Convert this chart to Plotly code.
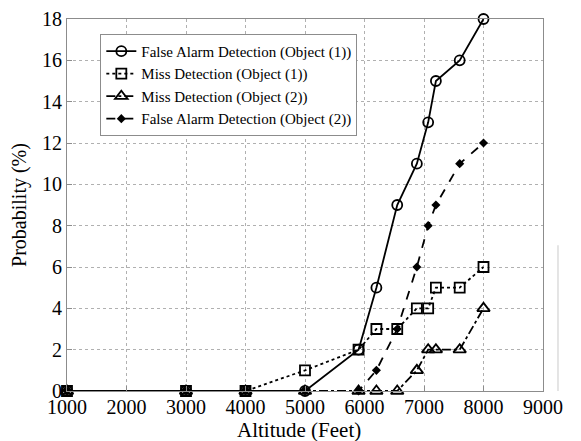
import plotly.graph_objects as go

altitude = [1000, 3000, 4000, 5000, 5900, 6200, 6550, 6880, 7070, 7200, 7600, 8000]
fa_obj1 = [0, 0, 0, 0, 2, 5, 9, 11, 13, 15, 16, 18]
miss_obj1 = [0, 0, 0, 1, 2, 3, 3, 4, 4, 5, 5, 6]
miss_obj2 = [0, 0, 0, 0, 0, 0, 0, 1, 2, 2, 2, 4]
fa_obj2 = [0, 0, 0, 0, 0, 1, 3, 6, 8, 9, 11, 12]

x_ticks = [1000, 2000, 3000, 4000, 5000, 6000, 7000, 8000, 9000]
y_ticks = [0, 2, 4, 6, 8, 10, 12, 14, 16, 18]

names = ["False Alarm Detection (Object (1))", "Miss Detection (Object (1))",
         "Miss Detection (Object (2))", "False Alarm Detection (Object (2))"]
x_title = "Altitude (Feet)"
y_title = "Probability (%)"

FONT = "Liberation Serif"

fig = go.Figure()
fig.add_trace(go.Scatter(x=altitude, y=fa_obj1, name=names[0], mode="lines+markers", cliponaxis=False,
                         line=dict(color="black", width=1.8, dash="solid"),
                         marker=dict(symbol="circle-open", size=10, color="black", line=dict(width=1.8))))
fig.add_trace(go.Scatter(x=altitude, y=miss_obj1, name=names[1], mode="lines+markers", cliponaxis=False,
                         line=dict(color="black", width=1.8, dash="dot"),
                         marker=dict(symbol="square-open", size=10, color="black", line=dict(width=1.8))))
fig.add_trace(go.Scatter(x=altitude, y=miss_obj2, name=names[2], mode="lines+markers", cliponaxis=False,
                         line=dict(color="black", width=1.8, dash="dashdot"),
                         marker=dict(symbol="triangle-up-open", size=11, color="black", line=dict(width=1.8))))
fig.add_trace(go.Scatter(x=altitude, y=fa_obj2, name=names[3], mode="lines+markers", cliponaxis=False,
                         line=dict(color="black", width=1.8, dash="dash"),
                         marker=dict(symbol="diamond", size=7, color="black")))

axis_common = dict(showline=True, linecolor="#8c8c8c", linewidth=1.2, mirror=True,
                   showgrid=True, gridcolor="#b0b0b0", griddash="dot", gridwidth=1,
                   ticks="inside", ticklen=5, tickcolor="#8c8c8c", zeroline=False,
                   automargin=False,
                   tickfont=dict(family=FONT, size=20, color="black"))

fig.update_xaxes(range=[1000, 9000], tickvals=x_ticks, ticklabelstandoff=-2, **axis_common)
fig.update_yaxes(range=[0, 18], tickvals=y_ticks,
                 title=dict(text=y_title, font=dict(family=FONT, size=20, color="black"), standoff=9),
                 **axis_common)

fig.add_annotation(text=x_title, xref="paper", yref="paper", x=0.487, y=-0.105,
                   xanchor="center", yanchor="middle", showarrow=False,
                   font=dict(family=FONT, size=21, color="black"))

fig.add_shape(type="line", xref="paper", yref="paper", x0=1.0315, x1=1.0315, y0=0.0, y1=0.392,
              line=dict(color="#dcdcdc", width=1.5))

# page body has an 8px default margin, so the figure is sized/offset to land on the window
fig.update_layout(
    width=573, height=433,
    margin=dict(l=59, r=38, t=11, b=50),
    paper_bgcolor="white", plot_bgcolor="white",
    font=dict(family=FONT, color="black"),
    legend=dict(x=0.07, y=0.96, xanchor="left", yanchor="top",
                bgcolor="white", bordercolor="#8c8c8c", borderwidth=1,
                font=dict(family=FONT, size=15, color="black"),
                tracegroupgap=0, itemwidth=30),
    showlegend=True,
)

fig.write_html("out.html")
